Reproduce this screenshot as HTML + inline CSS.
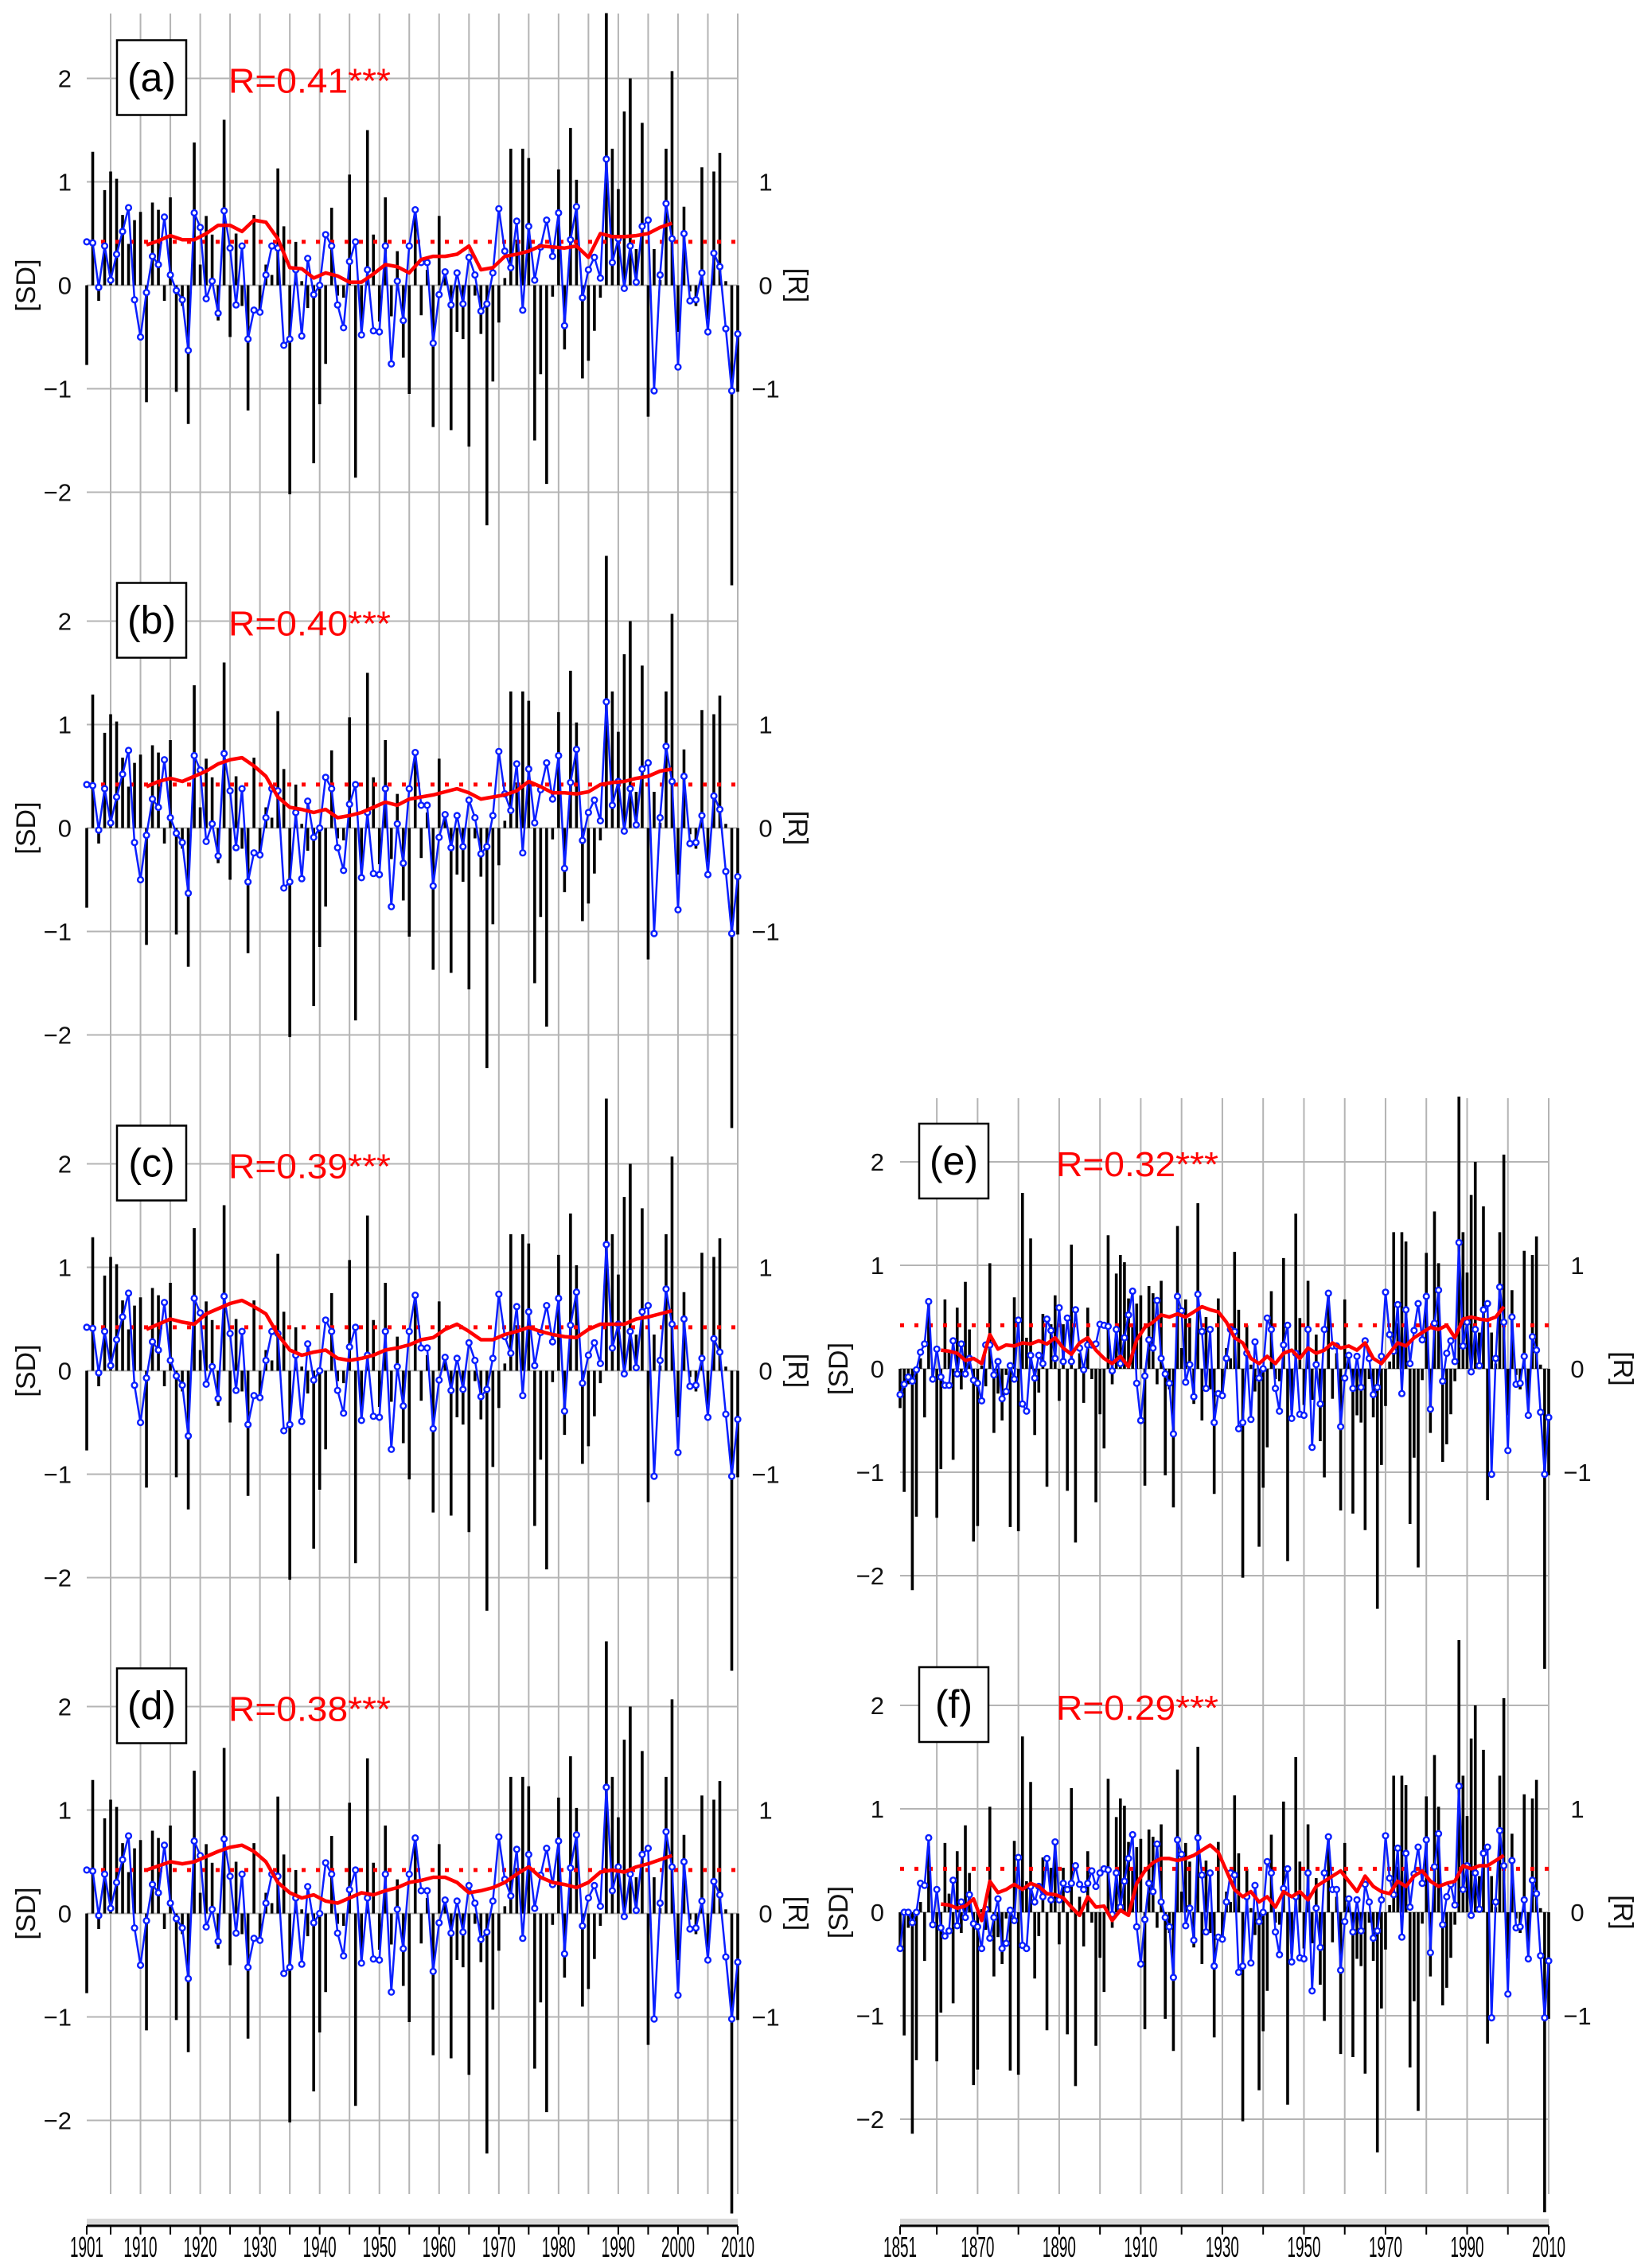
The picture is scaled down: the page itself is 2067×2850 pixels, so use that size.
<!DOCTYPE html>
<html><head><meta charset="utf-8"><style>
html,body{margin:0;padding:0;background:#fff;}
svg{display:block;font-family:"Liberation Sans",sans-serif;}
</style></head><body>
<svg id="chart" width="2067" height="2850" viewBox="0 0 2067 2850" xmlns="http://www.w3.org/2000/svg"></svg>
<script>
// ---- data ----
const barsLate = [
-0.77,1.29,-0.15,0.92,1.1,1.03,0.68,0.4,0.63,0.71,
-1.13,0.8,0.73,-0.15,0.85,-1.03,-0.2,-1.34,1.38,0.2,
0.67,0.49,-0.34,1.6,-0.5,0.5,-0.2,-1.21,0.68,-0.26,
0.2,0.1,1.13,0.57,-2.02,0.42,0.04,-0.22,-1.72,-1.15,
-0.76,0.75,-0.1,-0.12,1.07,-1.86,-0.4,1.5,0.49,-0.35,
0.85,-0.3,0.33,-0.7,-1.05,0.7,-0.29,0.15,-1.37,0.67,
0.1,-1.4,-0.45,-0.52,-1.56,-0.1,-0.47,-2.32,-0.93,-0.36,
0.07,1.32,0.44,1.32,1.23,-1.5,-0.86,-1.92,-0.11,1.12,
-0.62,1.52,1.02,-0.9,-0.73,-0.44,-0.12,2.7,1.32,0.93,
1.68,2.0,0.35,1.57,-1.27,0.35,0.05,1.32,2.07,-0.45,
0.76,-0.06,-0.2,1.14,-0.33,1.1,1.28,0.04,-2.9,-1.03];
const barsEarly = [
-0.38,-1.19,-0.15,-2.14,-1.43,0.1,-0.47,0.64,-0.1,-1.44,
-0.97,0.67,0.18,-0.88,0.59,-0.2,0.84,0.38,-1.67,-1.52,
0.03,-0.17,1.02,-0.62,-0.24,-0.5,-0.06,-1.53,0.69,-1.57,
1.7,0.3,1.26,-0.64,-0.23,0.53,-1.14,0.43,0.71,-0.31,
0.43,-1.18,1.2,-1.68,0.15,-0.33,0.59,-0.1,-1.29,-0.44];
const blueA = [
0.42,0.41,-0.02,0.38,0.05,0.3,0.52,0.75,-0.14,-0.5,
-0.07,0.28,0.2,0.66,0.1,-0.05,-0.14,-0.63,0.7,0.56,
-0.13,0.04,-0.27,0.72,0.36,-0.19,0.38,-0.52,-0.24,-0.26,
0.1,0.38,0.36,-0.58,-0.52,0.15,-0.49,0.26,-0.09,0.0,
0.49,0.38,-0.19,-0.41,0.23,0.42,-0.48,0.15,-0.44,-0.45,
0.38,-0.76,0.04,-0.34,0.38,0.73,0.22,0.22,-0.56,-0.09,
0.13,-0.19,0.12,-0.18,0.27,0.1,-0.25,-0.18,0.12,0.74,
0.33,0.17,0.62,-0.24,0.57,0.05,0.37,0.63,0.28,0.7,
-0.39,0.44,0.76,-0.12,0.15,0.27,0.07,1.22,0.22,0.45,
-0.03,0.38,0.03,0.57,0.63,-1.02,0.1,0.79,0.45,-0.79,
0.5,-0.15,-0.14,0.12,-0.45,0.31,0.18,-0.42,-1.02,-0.47];
const blueEEarly = [
-0.25,-0.15,-0.08,-0.12,-0.01,0.16,0.24,0.65,-0.1,0.19,
-0.08,-0.16,-0.16,0.27,-0.05,0.24,-0.05,0.1,-0.11,-0.14,
-0.31,0.23,0.23,-0.06,0.07,-0.29,-0.22,0.03,-0.1,0.47,
-0.34,-0.41,0.13,-0.09,0.13,0.05,0.48,0.37,0.1,0.59,
0.07,0.49,0.07,0.57,0.2,-0.01,0.23,0.23,0.24,0.43];
const blueFEarly = [
-0.35,0.0,0.0,-0.1,0.0,0.28,0.26,0.72,-0.12,0.22,
-0.15,-0.23,-0.18,0.31,-0.13,0.1,-0.05,0.17,-0.11,-0.14,
-0.35,0.03,-0.25,-0.05,0.13,-0.35,-0.3,0.02,-0.08,0.53,
-0.32,-0.35,0.25,0.1,0.25,0.15,0.52,0.12,0.68,0.12,
0.28,0.22,0.28,0.45,0.27,0.22,0.28,0.4,0.25,0.38];
const redA = [.39,.43,.48,.44,.44,.5,.58,.58,.52,.63,.61,.45,.17,.16,.07,.12,.09,.03,.03,.11,.2,.18,.12,.25,.28,.28,.3,.38,.15,.17,.28,.3,.33,.38,.37,.36,.38,.27,.5,.47,.47,.48,.5,.56,.6];
const redB = [.4,.45,.48,.45,.5,.55,.62,.66,.68,.6,.5,.3,.2,.18,.15,.18,.1,.12,.15,.2,.25,.22,.28,.3,.32,.35,.38,.34,.28,.3,.32,.36,.45,.4,.34,.34,.33,.35,.42,.44,.45,.48,.5,.55,.57];
const redC = [.4,.45,.5,.47,.45,.55,.6,.65,.68,.62,.55,.35,.2,.15,.18,.2,.12,.1,.12,.15,.2,.22,.25,.3,.32,.4,.45,.38,.3,.3,.35,.38,.42,.38,.35,.33,.32,.4,.45,.45,.45,.5,.52,.55,.58];
const redD = [.42,.46,.5,.48,.5,.55,.6,.64,.66,.6,.5,.3,.2,.15,.18,.12,.1,.15,.2,.18,.22,.25,.3,.32,.35,.35,.3,.2,.22,.25,.3,.38,.45,.35,.3,.28,.25,.3,.4,.42,.4,.45,.48,.52,.56];
const redE = [.18,.17,.15,.08,.1,.05,.33,.19,.23,.22,.25,.24,.27,.24,.3,.2,.14,.25,.3,.18,.1,.05,.12,.02,.28,.4,.45,.52,.5,.53,.5,.55,.6,.57,.55,.45,.3,.25,.1,.05,.12,.05,.15,.18,.1,.2,.15,.18,.25,.2,.22,.18,.25,.1,.05,.15,.25,.22,.3,.35,.4,.38,.42,.3,.48,.5,.48,.47,.5,.6];
const redF = [.08,.07,.04,.06,.13,-.08,.3,.19,.22,.27,.22,.28,.25,.18,.17,.14,.05,-.03,.15,.05,.06,-.08,.02,-.03,.28,.4,.48,.52,.52,.5,.52,.55,.6,.65,.58,.4,.22,.15,.2,.1,.15,.05,.2,.15,.2,.12,.25,.3,.35,.4,.3,.2,.35,.25,.2,.18,.3,.25,.35,.4,.3,.25,.28,.3,.45,.42,.45,.45,.5,.55];
const sdTicks = [2,1,0,-1,-2];
const rTicks = [1,0,-1];
const yearLabelsL = [1901,1910,1920,1930,1940,1950,1960,1970,1980,1990,2000,2010];
const yearLabelsR = [1851,1870,1890,1910,1930,1950,1970,1990,2010];
const rLevel = 0.42;

// ---- setup ----
const NS = "http://www.w3.org/2000/svg";
const svg = document.getElementById('chart');
function mk(tag, attrs, parent){
  const e = document.createElementNS(NS, tag);
  for (const k in attrs) e.setAttribute(k, attrs[k]);
  (parent||svg).appendChild(e);
  return e;
}
const SD = 130;
const cols = {
  L:{x0:109, x1:927, y0:1901, y1:2010, gridTop:17, gridStart:1905, gridStep:5, bars:barsLate, tickX:90, rX:962, sdX:32, rLabX:1003},
  R:{x0:1131, x1:1946, y0:1851, y1:2010, gridTop:1380, gridStart:1860, gridStep:10, bars:barsEarly.concat(barsLate), tickX:1111, rX:1982, sdX:1053, rLabX:2040}
};
function xScale(c, year){ return c.x0 + (year - c.y0)/(c.y1 - c.y0)*(c.x1 - c.x0); }
function yScale(zero, v){ return zero - v*SD; }

for (const key of ['L','R']){
  const c = cols[key];
  for (let yr = c.gridStart; yr <= c.y1; yr += c.gridStep){
    const g = mk('line',{x1:xScale(c,yr),x2:xScale(c,yr),y1:c.gridTop,y2:2757,stroke:'#b4b4b4','stroke-width':2});
    
    
  }
}

const panels = [
  {id:'a', col:'L', zero:358.5, blue:blueA, red:redA, redStart:1911, R:'R=0.41***'},
  {id:'b', col:'L', zero:1040.5, blue:blueA, red:redB, redStart:1911, R:'R=0.40***'},
  {id:'c', col:'L', zero:1722.5, blue:blueA, red:redC, redStart:1911, R:'R=0.39***'},
  {id:'d', col:'L', zero:2404.5, blue:blueA, red:redD, redStart:1911, R:'R=0.38***'},
  {id:'e', col:'R', zero:1720, blue:blueEEarly.concat(blueA), red:redE, redStart:1861, R:'R=0.32***'},
  {id:'f', col:'R', zero:2403, blue:blueFEarly.concat(blueA), red:redF, redStart:1861, R:'R=0.29***'}
];

for (const p of panels){
  const c = cols[p.col];
  const g = mk('g',{});
  
  
  for (const t of sdTicks){
    const l = mk('line',{x1:c.x0,x2:c.x1,y1:yScale(p.zero,t),y2:yScale(p.zero,t),stroke:'#b4b4b4','stroke-width':2},g);
    
    
    const tx = mk('text',{x:c.tickX,y:yScale(p.zero,t)+11,'font-size':31,'text-anchor':'end',fill:'#111'},g);
    tx.textContent = t<0 ? '\u2212'+(-t) : String(t);
    
    
  }
  for (const t of rTicks){
    const tx = mk('text',{x:c.rX,y:yScale(p.zero,t)+11,'font-size':31,'text-anchor':'middle',fill:'#111'},g);
    tx.textContent = t<0 ? '\u2212'+(-t) : String(t);
    
    
  }
  const sdl = mk('text',{x:0,y:0,'font-size':34,'text-anchor':'middle',fill:'#111',transform:`translate(${c.sdX+12},${p.zero}) rotate(-90)`},g);
  sdl.textContent='[SD]';
  
  
  const rl = mk('text',{x:0,y:0,'font-size':34,'text-anchor':'middle',fill:'#111',transform:`translate(${c.rLabX-12},${p.zero}) rotate(90)`},g);
  rl.textContent='[R]';
  
  

  const top = p.zero - 342;
  c.bars.forEach((v,i)=>{
    const x = xScale(c, c.y0+i);
    let yv = yScale(p.zero, v);
    if (yv < top) yv = top;
    const b = mk('line',{x1:x,x2:x,y1:yScale(p.zero,0),y2:yv,stroke:'#000','stroke-width':3.6},g);
    
    
  });
  const dl = mk('line',{x1:c.x0,x2:c.x1,y1:yScale(p.zero,rLevel),y2:yScale(p.zero,rLevel),stroke:'#ff0000','stroke-width':5,'stroke-dasharray':'5 13'},g);
  
  
  const pts = p.blue.map((v,i)=>xScale(c,c.y0+i).toFixed(1)+','+yScale(p.zero,v).toFixed(1)).join(' ');
  const bl = mk('polyline',{points:pts,fill:'none',stroke:'#0a1fff','stroke-width':2.5},g);
  
  
  p.blue.forEach((v,i)=>{
    const ci = mk('circle',{cx:xScale(c,c.y0+i),cy:yScale(p.zero,v),r:3.4,fill:'#fff',stroke:'#0a1fff','stroke-width':2.4},g);
    
    
  });
  const rp = p.red.map((v,i)=>xScale(c,p.redStart+2*i).toFixed(1)+','+yScale(p.zero,v).toFixed(1)).join(' ');
  const rr = mk('polyline',{points:rp,fill:'none',stroke:'#ff0000','stroke-width':4.5,'stroke-linejoin':'round'},g);
  
  
  const bx = c.x0 + (p.col==='L'?38:24);
  const box = mk('rect',{x:bx,y:p.zero-308,width:87,height:94,fill:'#fff',stroke:'#000','stroke-width':2.5},g);
  
  
  const lt = mk('text',{x:bx+43.5,y:p.zero-244,'font-size':50,'text-anchor':'middle',fill:'#000'},g);
  lt.textContent='('+p.id+')';
  
  
  const rt = mk('text',{x:c.x0+(p.col==='L'?178:196),y:p.zero-242,'font-size':44,fill:'#ff0000',textLength:204,lengthAdjust:'spacingAndGlyphs'},g);
  rt.textContent=p.R;
  
  
}

for (const key of ['L','R']){
  const c = cols[key];
  const band = mk('rect',{x:c.x0,y:2788,width:c.x1-c.x0,height:8,fill:'#d8d8d8'});
  
  
  const ax = mk('line',{x1:c.x0,x2:c.x1,y1:2797,y2:2797,stroke:'#000','stroke-width':3});
  
  
  const tickYears = [c.y0];
  for (let yr=c.gridStart; yr<=c.y1; yr+=c.gridStep) tickYears.push(yr);
  for (const yr of tickYears){
    const t = mk('line',{x1:xScale(c,yr),x2:xScale(c,yr),y1:2797,y2:2808,stroke:'#000','stroke-width':2});
    
    
  }
  const labs = key==='L'?yearLabelsL:yearLabelsR;
  for (const yr of labs){
    const t = mk('text',{x:xScale(c,yr),y:2836,'font-size':36,'text-anchor':'middle',fill:'#000',textLength:42,lengthAdjust:'spacingAndGlyphs'});
    t.textContent=String(yr);
    
    
  }
}
</script>
</body></html>
